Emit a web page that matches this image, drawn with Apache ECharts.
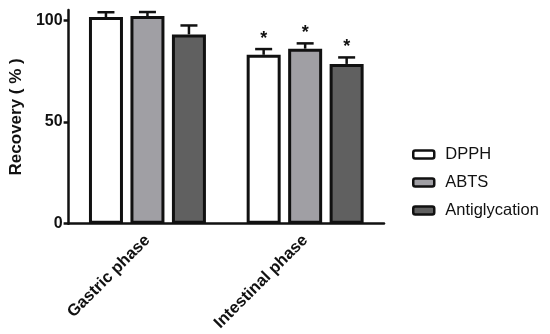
<!DOCTYPE html>
<html>
<head>
<meta charset="utf-8">
<script src="https://cdn.jsdelivr.net/npm/echarts@6/dist/echarts.min.js"></script>
<style>
  html, body { margin: 0; padding: 0; background: #fff; }
  #container { width: 550px; height: 334px; }
</style>
</head>
<body>
<div id="container"></div>
<script>
let categories = ['Gastric phase', 'Intestinal phase'];
let names = ['DPPH', 'ABTS', 'Antiglycation'];
let dpph = [101.5, 83];
let abts = [102, 86];
let antiglycation = [93, 78.5];
let dpphErr = [2.4, 2.8];
let abtsErr = [2, 2.6];
let antiglycationErr = [4.4, 3.2];
let stars = ['', '*'];
let yTicks = [0, 50, 100];

let dom = document.getElementById('container');
let myChart = echarts.init(dom, null, {renderer: 'canvas'});

let colors = ['#ffffff', '#a09fa4', '#606060'];
let values = [dpph, abts, antiglycation];
let errs = [dpphErr, abtsErr, antiglycationErr];
let font = '"Liberation Sans", Arial';

function errorBar(k) {
    return function (params, api) {
        let base = api.coord([api.value(0), api.value(1)]);
        let top = api.coord([api.value(0), api.value(1) + api.value(2)]);
        let x = base[0] + (k - 1) * 41.5;
        let children = [
            {type: 'line', shape: {x1: x, y1: base[1], x2: x, y2: top[1]},
             style: {stroke: '#111', lineWidth: 2.5}},
            {type: 'line', shape: {x1: x - 8.5, y1: top[1], x2: x + 8.5, y2: top[1]},
             style: {stroke: '#111', lineWidth: 2.5}}
        ];
        let s = stars[api.value(0)];
        if (s) {
            children.push({type: 'text', x: x, y: top[1] - 1,
                style: {text: s, fill: '#111', font: 'bold 18px ' + font,
                        align: 'center', verticalAlign: 'bottom'}});
        }
        return {type: 'group', children: children};
    };
}

let series = [];
names.forEach(function (n, k) {
    series.push({
        name: n,
        type: 'bar',
        barWidth: 34,
        barGap: '22%',
        z: 3,
        itemStyle: {color: colors[k], borderColor: '#111', borderWidth: 3},
        data: values[k]
    });
});
names.forEach(function (n, k) {
    series.push({
        type: 'custom',
        z: 2,
        renderItem: errorBar(k),
        data: categories.map(function (c, i) { return [i, values[k][i], errs[k][i]]; })
    });
});

option = {
    animation: false,
    backgroundColor: '#fff',
    grid: {left: 63, right: 166, top: 10, bottom: 110},
    legend: {
        orient: 'vertical',
        left: 407,
        top: 141,
        itemWidth: 21,
        itemHeight: 8,
        itemGap: 11,
        data: names,
        itemStyle: {borderColor: '#111', borderWidth: 2.5},
        textStyle: {fontFamily: font, fontSize: 16.5, color: '#111', padding: [0, 0, 0, 6]}
    },
    xAxis: {
        type: 'category',
        data: categories,
        axisLine: {lineStyle: {color: '#111', width: 2.5}},
        axisTick: {alignWithLabel: true, length: 6, lineStyle: {color: '#111', width: 2.5}},
        axisLabel: {
            rotate: 45,
            margin: 14,
            color: '#111',
            fontFamily: font,
            fontWeight: 'bold',
            fontSize: 16.5
        }
    },
    yAxis: {
        type: 'value',
        min: 0,
        max: 105,
        name: 'Recovery ( % )',
        nameLocation: 'middle',
        nameGap: 43,
        nameTextStyle: {fontFamily: font, fontSize: 17, fontWeight: 'bold', color: '#111'},
        splitLine: {show: false},
        axisLine: {show: true, lineStyle: {color: '#111', width: 2.5}},
        axisTick: {show: true, length: 5, customValues: yTicks, lineStyle: {color: '#111', width: 2.5}},
        axisLabel: {
            customValues: yTicks,
            margin: 6,
            color: '#111',
            fontFamily: font,
            fontWeight: 'bold',
            fontSize: 16
        }
    },
    series: series
};

if (option && typeof option === 'object') {
    myChart.setOption(option, true);
}
</script>
</body>
</html>
